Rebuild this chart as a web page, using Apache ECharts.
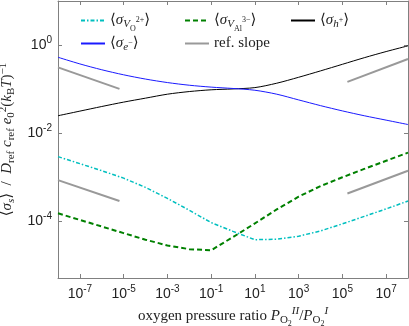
<!DOCTYPE html>
<html lang="en">
<head>
    <meta charset="UTF-8">
    <title>conductivity vs oxygen pressure ratio</title>
    <script src="https://cdn.jsdelivr.net/npm/echarts@6/dist/echarts.min.js"></script>
    <style>
        html, body { margin: 0; padding: 0; background: #fff; overflow: hidden; }
        #chart { width: 409px; height: 326px; }
    </style>
</head>
<body>
<div id="chart"></div>
<script type="text/javascript">
    // exponents of the pressure ratio (x) and log10 of <sigma> (y)
    var pressureExp = [-8, -7, -6, -5, -4, -3, -2, -1, 0, 1, 2, 3, 4, 5, 6, 7, 8];
    var logSigmaVO  = [-2.54, -2.70, -2.86, -3.03, -3.24, -3.49, -3.76, -4.04, -4.24, -4.43, -4.42, -4.35, -4.23, -4.07, -3.90, -3.73, -3.55];
    var logSigmaVAl = [-3.83, -3.98, -4.13, -4.28, -4.43, -4.56, -4.645, -4.67, -4.37, -4.06, -3.74, -3.45, -3.21, -3.01, -2.82, -2.635, -2.45];
    var logSigmaH   = [-1.61, -1.505, -1.40, -1.30, -1.21, -1.12, -1.06, -1.02, -1.00, -0.97, -0.87, -0.735, -0.59, -0.44, -0.29, -0.15, -0.02];
    var logSigmaE   = [-0.28, -0.431, -0.564, -0.679, -0.776, -0.855, -0.916, -0.959, -0.99, -1.03, -1.12, -1.25, -1.38, -1.50, -1.61, -1.71, -1.81];

    // reference slope segments
    var refLeftExp = [-8, -5.19];
    var refRightExp = [5.23, 8];
    var refUpperLeft = [-0.51, -1.0];
    var refUpperRight = [-0.84, -0.32];
    var refLowerLeft = [-3.075, -3.55];
    var refLowerRight = [-3.38, -2.86];

    var xTickVals = [1e-7, 1e-5, 1e-3, 1e-1, 1e1, 1e3, 1e5, 1e7];
    var yTickVals = [1e-4, 1e-2, 1];

    function pairs(xs, ys) {
        var out = [];
        for (let i = 0; i < xs.length; i++) {
            out.push([Math.pow(10, xs[i]), Math.pow(10, ys[i])]);
        }
        return out;
    }

    var axisColor = '#808080';
    var textColor = '#222';
    var serif = '"Liberation Serif", "DejaVu Serif", serif';

    var tickRich = {
        b: { fontSize: 14, fontFamily: 'Liberation Sans', color: textColor },
        e: { fontSize: 10, fontFamily: 'Liberation Sans', color: textColor, padding: [0, 0, 10, 0] }
    };
    function powLabel(v) {
        return '{b|10}{e|' + Math.round(Math.log10(v)) + '}';
    }

    var mathRich = {
        r: { fontSize: 15, fontFamily: serif, color: textColor },
        i: { fontSize: 15, fontFamily: serif, fontStyle: 'italic', color: textColor },
        sub: { fontSize: 11, fontFamily: serif, fontStyle: 'italic', color: textColor, padding: [8, 0, 0, 0] },
        subr: { fontSize: 11, fontFamily: serif, color: textColor, padding: [8, 0, 0, 0] },
        ss: { fontSize: 8, fontFamily: serif, color: textColor, padding: [16, 0, 0, 0] },
        ssup: { fontSize: 8, fontFamily: serif, color: textColor, padding: [0, 0, 2, 0] },
        sup: { fontSize: 11, fontFamily: serif, color: textColor, padding: [0, 0, 9, 0] },
        supi: { fontSize: 11, fontFamily: serif, fontStyle: 'italic', color: textColor, padding: [0, 0, 9, 0] }
    };

    var legendText = {
        'VO': '{r|\u27e8}{i|\u03c3}{sub|V}{ss|O}{ssup|2+}{r|\u27e9}',
        'VAl': '{r|\u27e8}{i|\u03c3}{sub|V}{ss|Al}{ssup|3\u2212}{r|\u27e9}',
        'h': '{r|\u27e8}{i|\u03c3}{sub|h}{ssup|+}{r|\u27e9}',
        'e': '{r|\u27e8}{i|\u03c3}{sub|e}{ssup|\u2212}{r|\u27e9}',
        'ref. slope': '{r|ref. slope}'
    };

    function legendAt(name, left, top) {
        return {
            data: [name],
            left: left,
            top: top,
            padding: 0,
            itemWidth: 24,
            itemHeight: 10,
            selectedMode: false,
            itemStyle: { opacity: 0 },
            formatter: function (n) { return legendText[n]; },
            textStyle: { rich: mathRich }
        };
    }

    var yName = '{r|\u27e8}{i|\u03c3}{sub|s}{r|\u27e9  /  }{i|D}{subr|ref}{r| }{i|c}{subr|ref}{r| }{i|e}{subr|0}{sup|2}{r|(}{i|k}{subr|B}{i|T}{r|)}{sup|\u22121}';
    var xName = '{r|oxygen pressure ratio }{i|P}{subr|O}{ss|2}{supi|II}{r|/}{i|P}{subr|O}{ss|2}{supi|I}';

    function baseAxis(extra) {
        var ax = {
            type: 'log',
            logBase: 10,
            axisLine: { show: true, onZero: false, lineStyle: { color: axisColor, width: 1 } },
            splitLine: { show: false },
            minorTick: { show: false }
        };
        for (var k in extra) ax[k] = extra[k];
        return ax;
    }

    var option = {
        animation: false,
        backgroundColor: '#fff',
        grid: { left: 58, right: 1, top: 1, bottom: 48, outerBoundsMode: 'none', containLabel: false },
        legend: [
            legendAt('VO', 80, 13),
            legendAt('e', 80, 36),
            legendAt('VAl', 184, 13),
            legendAt('ref. slope', 184, 36),
            legendAt('h', 290, 13)
        ],
        xAxis: [
            baseAxis({
                position: 'bottom', min: 1e-8, max: 1e8,
                axisTick: { inside: true, length: 4, customValues: xTickVals, lineStyle: { color: axisColor } },
                axisLabel: { customValues: xTickVals, formatter: powLabel, rich: tickRich, margin: 6, hideOverlap: false },
                name: xName, nameLocation: 'middle', nameGap: 26,
                nameTextStyle: { rich: mathRich }
            }),
            baseAxis({
                position: 'top', min: 1e-8, max: 1e8,
                axisTick: { inside: true, length: 4, customValues: xTickVals, lineStyle: { color: axisColor } },
                axisLabel: { show: false }
            })
        ],
        yAxis: [
            baseAxis({
                position: 'left', min: 5e-6, max: 10,
                axisTick: { inside: true, length: 4, customValues: yTickVals, lineStyle: { color: axisColor } },
                axisLabel: { customValues: yTickVals, formatter: powLabel, rich: tickRich, margin: 6, hideOverlap: false },
                name: yName, nameLocation: 'middle', nameGap: 38, nameRotate: 90,
                nameTextStyle: { rich: mathRich }
            }),
            baseAxis({
                position: 'right', min: 5e-6, max: 10,
                axisTick: { inside: true, length: 4, customValues: yTickVals, lineStyle: { color: axisColor } },
                axisLabel: { show: false }
            })
        ],
        series: [
            {
                name: 'VO', type: 'line', symbol: 'none', color: '#00bfbf',
                lineStyle: { width: 1.5, type: [4, 2, 1.5, 2] },
                data: pairs(pressureExp, logSigmaVO)
            },
            {
                name: 'VAl', type: 'line', symbol: 'none', color: '#008000',
                lineStyle: { width: 2, type: [5, 3] },
                data: pairs(pressureExp, logSigmaVAl)
            },
            {
                name: 'h', type: 'line', symbol: 'none', color: '#000000', smooth: 0.3,
                lineStyle: { width: 1 },
                data: pairs(pressureExp, logSigmaH)
            },
            {
                name: 'e', type: 'line', symbol: 'none', color: '#1a1aff', smooth: 0.3,
                lineStyle: { width: 1 },
                data: pairs(pressureExp, logSigmaE)
            },
            {
                name: 'ref. slope', type: 'line', symbol: 'none', color: '#999999',
                lineStyle: { width: 2 }, data: pairs(refLeftExp, refUpperLeft)
            },
            {
                name: 'ref. slope', type: 'line', symbol: 'none', color: '#999999',
                lineStyle: { width: 2 }, data: pairs(refRightExp, refUpperRight)
            },
            {
                name: 'ref. slope', type: 'line', symbol: 'none', color: '#999999',
                lineStyle: { width: 2 }, data: pairs(refLeftExp, refLowerLeft)
            },
            {
                name: 'ref. slope', type: 'line', symbol: 'none', color: '#999999',
                lineStyle: { width: 2 }, data: pairs(refRightExp, refLowerRight)
            }
        ]
    };

    var myChart = echarts.init(document.getElementById('chart'));
    myChart.setOption(option);
</script>
</body>
</html>
